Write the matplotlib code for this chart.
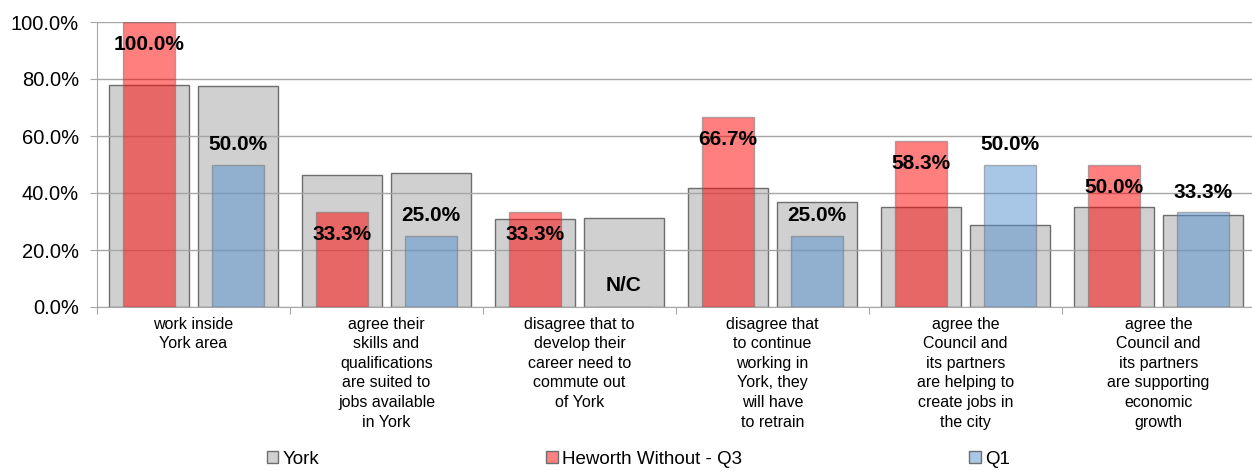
import numpy as np
import matplotlib.pyplot as plt
import matplotlib.ticker as ticker
from matplotlib.patches import Patch

plt.rcParams['font.family'] = ['Liberation Sans', 'DejaVu Sans']

# categories and values (percent)
categories = [
    "work inside\nYork area",
    "agree their\nskills and\nqualifications\nare suited to\njobs available\nin York",
    "disagree that to\ndevelop their\ncareer need to\ncommute out\nof York",
    "disagree that\nto continue\nworking in\nYork, they\nwill have\nto retrain",
    "agree the\nCouncil and\nits partners\nare helping to\ncreate jobs in\nthe city",
    "agree the\nCouncil and\nits partners\nare supporting\neconomic\ngrowth",
]
york_q3 = [77.9, 46.3, 30.9, 41.8, 35.1, 35.1]
heworth_q3 = [100.0, 33.3, 33.3, 66.7, 58.3, 50.0]
york_q1 = [77.5, 47.0, 31.2, 36.8, 28.8, 32.3]
heworth_q1 = [50.0, 25.0, None, 25.0, 50.0, 33.3]   # None = N/C

grey = '#d0d0d0'
red = '#ff0000'
blue = '#5391d1'
edge = '#6e6e6e'

fig = plt.figure(figsize=(12.52, 4.71), dpi=100)
ax = fig.add_axes([97 / 1252, 1 - 307 / 471, 1158 / 1252, 285 / 471])

x = np.arange(len(categories))
off = 0.23
wide = 0.415
narrow = 0.27

q1_vals = [v if v is not None else 0 for v in heworth_q1]

ax.bar(x - off, york_q3, wide, color=grey, edgecolor=edge, linewidth=1, zorder=2)
ax.bar(x + off, york_q1, wide, color=grey, edgecolor=edge, linewidth=1, zorder=2)
ax.bar(x - off, heworth_q3, narrow, color=red, alpha=0.5, edgecolor=edge, linewidth=1, zorder=3)
ax.bar(x + off, q1_vals, narrow, color=blue, alpha=0.5, edgecolor=edge, linewidth=1, zorder=3)

# value labels
for i in range(len(categories)):
    ax.text(x[i] - off, heworth_q3[i] - 8, f"{heworth_q3[i]:.1f}%", ha='center', va='center',
            fontsize=15, fontweight='bold', zorder=5)
    if heworth_q1[i] is None:
        ax.text(x[i] + off, 7.7, "N/C", ha='center', va='center',
                fontsize=15, fontweight='bold', zorder=5)
    else:
        ax.text(x[i] + off, heworth_q1[i] + 7, f"{heworth_q1[i]:.1f}%", ha='center', va='center',
                fontsize=15, fontweight='bold', zorder=5)

ax.set_ylim(0, 100)
ax.set_xlim(-0.5, len(categories) - 0.5)
ax.yaxis.set_major_locator(ticker.MultipleLocator(20))
ax.yaxis.set_major_formatter(ticker.FuncFormatter(lambda v, p: f"{v:.1f}%"))
ax.grid(axis='y', color='#a6a6a6', linewidth=1, zorder=4)
ax.set_axisbelow(False)

ax.set_xticks(np.arange(len(categories) + 1) - 0.5)
ax.set_xticklabels([])
ax.set_xticks(x, minor=True)
ax.set_xticklabels(categories, minor=True, fontsize=11.5, linespacing=1.38, va='top')
ax.tick_params(axis='x', which='minor', length=0, pad=7)
ax.tick_params(axis='x', which='major', length=5, color='#a6a6a6')
ax.tick_params(axis='y', length=5, color='#a6a6a6', labelsize=14.5, pad=8)

for s in ['top', 'right']:
    ax.spines[s].set_visible(False)
for s in ['left', 'bottom']:
    ax.spines[s].set_color('#a6a6a6')

handles = [
    Patch(facecolor=grey, edgecolor=edge, label='York'),
    Patch(facecolor='#ff8080', edgecolor=edge, label='Heworth Without - Q3'),
    Patch(facecolor='#a9c8e8', edgecolor=edge, label='Q1'),
]
fig.legend(handles=handles, loc='center', bbox_to_anchor=(0.51, 1 - 459 / 471), ncol=3,
           frameon=False, fontsize=13.5, handlelength=0.6, handleheight=0.6,
           handletextpad=0.25, columnspacing=12.1)

fig.savefig('out.png', dpi=100)
